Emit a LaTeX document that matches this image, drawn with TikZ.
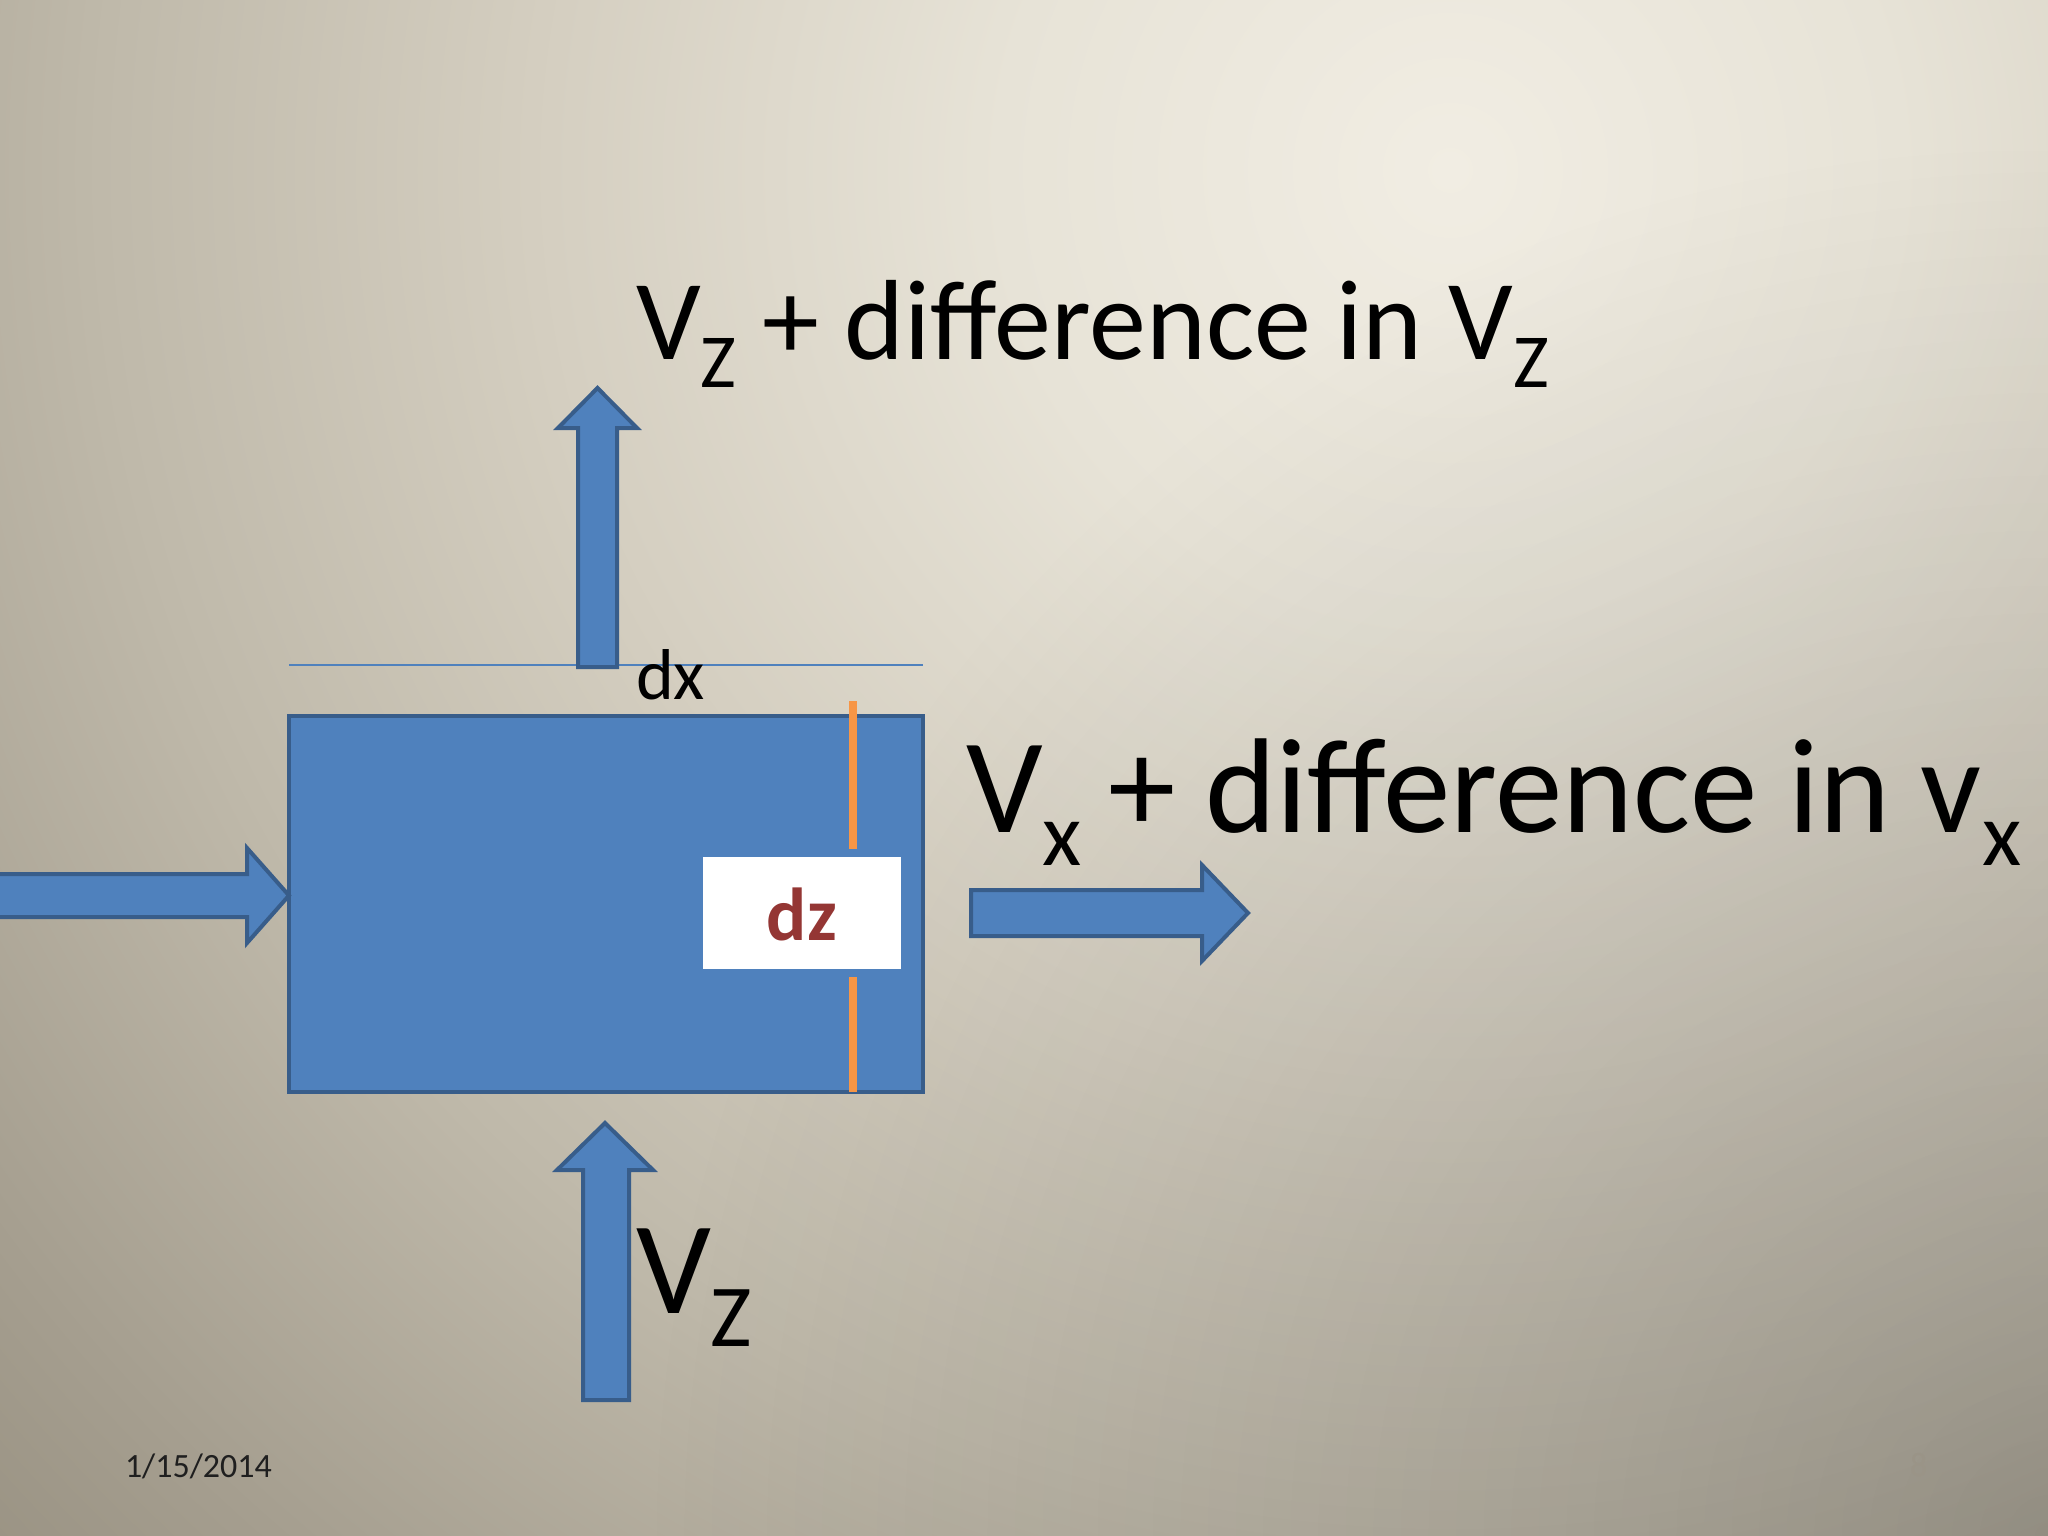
\documentclass[tikz,border=0pt]{standalone}
\usepackage{fontspec}
\setmainfont{Carlito}
\usetikzlibrary{calc,fadings}
\definecolor{bg0}{HTML}{F1EDE3}
\definecolor{bg1}{HTML}{E7E3D7}
\definecolor{bg2}{HTML}{D5CFC1}
\definecolor{bg3}{HTML}{BFB9AA}
\definecolor{bg4}{HTML}{A59E8F}
\definecolor{bg5}{HTML}{8E8777}
\definecolor{blfill}{HTML}{4F81BD}
\definecolor{blline}{HTML}{385D8A}
\definecolor{orangeline}{HTML}{F79646}
\definecolor{dzred}{HTML}{943634}
\definecolor{datecol}{HTML}{1F1F1F}
\definecolor{pagecol}{HTML}{9A9487}
\pgfdeclareradialshading{bgshade}{\pgfpoint{0bp}{0bp}}{color(0bp)=(bg0); color(5bp)=(bg1); color(10bp)=(bg2); color(15bp)=(bg3); color(20bp)=(bg4); color(25bp)=(bg5); color(50bp)=(bg5)}
\tikzfading[name=cornerfade, inner color=transparent!0, outer color=transparent!100]
\newcommand\mysub[1]{\raisebox{-0.25em}{\scalebox{0.67}{#1}}}
\tikzset{
  blockarrow/.style={fill=blfill, draw=blline, line width=4pt, line join=miter},
  txt/.style={inner sep=0pt, outer sep=0pt, anchor=base west, text=black},
}
\begin{document}
\begin{tikzpicture}[x=1pt,y=-1pt]
\useasboundingbox (0,0) rectangle (2048,1536);
\begin{scope}
  \clip (0,0) rectangle (2048,1536);
  \shade[shading=bgshade] (1450,170) circle[radius=2250];
  \fill[black, fill opacity=0.2, path fading=cornerfade] (2048,1536) circle[radius=1400];
\end{scope}
% main box
\draw[blockarrow] (289,716) rectangle (923,1092);
% thin dx line
\draw[blfill, line width=2.5pt] (289,665) -- (923,665);
% orange dz marker
\draw[orangeline, line width=8pt] (853,701) -- (853,849);
\draw[orangeline, line width=8pt] (853,977) -- (853,1092);
% white label box
\fill[white] (703,857) rectangle (901,969);
\node[inner sep=0pt, anchor=base, text=dzred, font=\fontsize{75}{80}\selectfont\bfseries] (dz) at (802,940) {dz};
% top arrow
\draw[blockarrow] (578,667) -- (578,428) -- (558,428) -- (597.5,388) -- (637,428) -- (617,428) -- (617,667) -- cycle;
% bottom arrow
\draw[blockarrow] (583,1400) -- (583,1170) -- (557,1170) -- (605,1123) -- (653,1170) -- (629,1170) -- (629,1400) -- cycle;
% left arrow
\draw[blockarrow] (-10,874) -- (247,874) -- (247,848) -- (289,895.5) -- (247,943) -- (247,917) -- (-10,917) -- cycle;
% right arrow
\draw[blockarrow] (971,890) -- (1202,890) -- (1202,865) -- (1248,913) -- (1202,961) -- (1202,936) -- (971,936) -- cycle;
% texts
\node[txt, font=\fontsize{114}{130}\selectfont] (vztop) at (636,359) {V\mysub{Z} + difference in V\mysub{Z}};
\node[txt, font=\fontsize{135}{150}\selectfont] (vx) at (966,832) {V\mysub{x}\hspace{-0.03em} + difference in v\mysub{x}};
\node[txt, font=\fontsize{132}{150}\selectfont] (vzbot) at (636,1313) {V\mysub{Z}};
\node[txt, font=\fontsize{72}{80}\selectfont] (dx) at (636,699) {dx};
\node[txt, text=datecol, font=\fontsize{34}{40}\selectfont] (date) at (125,1477) {1/15/2014};
\node[txt, text=pagecol, font=\fontsize{34}{40}\selectfont] (page) at (1910,1476) {8};
\end{tikzpicture}
\end{document}
